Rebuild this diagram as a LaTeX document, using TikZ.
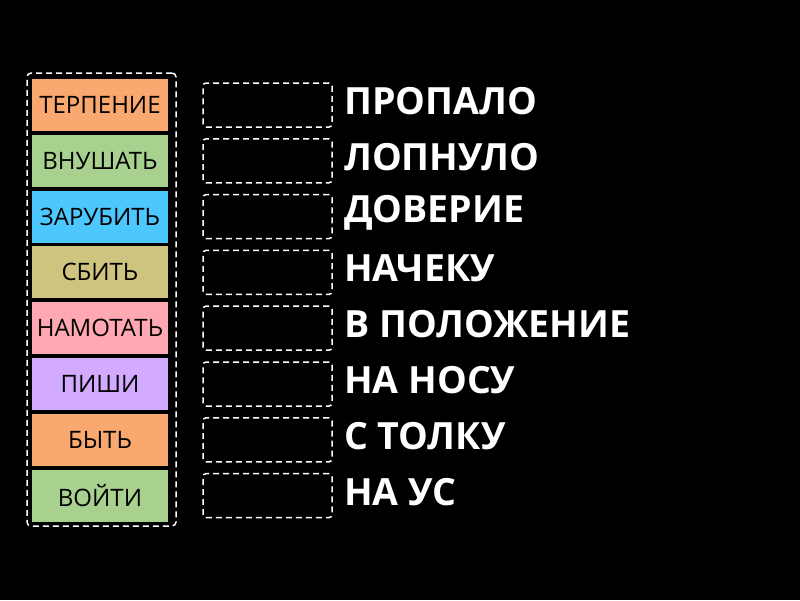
\documentclass[tikz,border=0pt]{standalone}
\usepackage{fontspec}
\setmainfont{Open Sans}
\definecolor{corange}{HTML}{F9A86F}
\definecolor{cgreen}{HTML}{A8D08F}
\definecolor{ccyan}{HTML}{4CC8FF}
\definecolor{ckhaki}{HTML}{CEC47F}
\definecolor{cpink}{HTML}{FFA8B4}
\definecolor{clav}{HTML}{D2AAFF}
\tikzset{
 tile/.style={fill=#1,draw=none,minimum width=136pt,minimum height=52pt,inner sep=0pt,font=\fontsize{24}{26}\selectfont,text=black},
 slot/.style={draw=white,dashed,line width=1.5pt,dash pattern=on 6pt off 4pt,rounded corners=3pt,minimum width=129pt,minimum height=44pt,inner sep=0pt},
 word/.style={anchor=west,text=white,font=\fontsize{37.5}{40}\selectfont\bfseries,inner sep=0pt}
}
\begin{document}
\begin{tikzpicture}[x=1pt,y=-1pt]
\fill[black] (0,0) rectangle (800,600);
\useasboundingbox (0,0) rectangle (800,600);
\node[draw=white,dashed,line width=1.5pt,dash pattern=on 6pt off 4pt,rounded corners=4pt,minimum width=149pt,minimum height=453pt,inner sep=0pt] (frame) at (101.5,299.5) {};
\foreach \i/\c/\t/\w in {0/corange/ТЕРПЕНИЕ/ПРОПАЛО,1/cgreen/ВНУШАТЬ/ЛОПНУЛО,2/ccyan/ЗАРУБИТЬ/ДОВЕРИЕ,3/ckhaki/СБИТЬ/НАЧЕКУ,4/cpink/НАМОТАТЬ/В ПОЛОЖЕНИЕ,5/clav/ПИШИ/НА НОСУ,6/corange/БЫТЬ/С ТОЛКУ,7/cgreen/ВОЙТИ/НА УС}{
 \node[tile=\c] (t\i) at (100,105+55.8*\i) {\t};
 \node[slot] (s\i) at (267.5,105+55.8*\i) {};
 \node[word] (w\i) at (344,101+55.8*\i) {\w};
}
\end{tikzpicture}
\end{document}
